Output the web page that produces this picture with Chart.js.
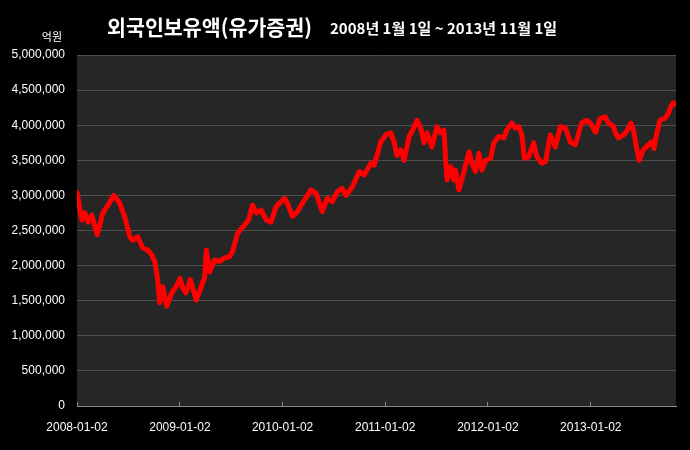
<!DOCTYPE html>
<html>
<head>
<meta charset="utf-8">
<script src="https://cdn.jsdelivr.net/npm/chart.js@4"></script>
<style>
  html, body { margin: 0; padding: 0; background: #000; }
  #wrap { width: 690px; height: 450px; position: relative; }
</style>
</head>
<body>
<div id="wrap"><canvas id="chart"></canvas></div>
<script>
// 외국인보유액(유가증권), 억원
const TITLE    = '외국인보유액(유가증권)';
const SUBTITLE = '2008년 1월 1일 ~ 2013년 11월 1일';
const UNIT     = '억원';

const dates = [
  '2008-01-02','2008-01-19','2008-01-30','2008-02-10','2008-02-23','2008-03-14','2008-04-03','2008-04-21',
  '2008-05-12','2008-06-02','2008-06-20','2008-07-08','2008-07-19','2008-08-05','2008-08-23','2008-09-10',
  '2008-09-24','2008-10-05','2008-10-15','2008-10-22','2008-11-02','2008-11-16','2008-12-04','2008-12-22',
  '2009-01-02','2009-01-12','2009-01-23','2009-02-08','2009-03-01','2009-03-19','2009-03-31','2009-04-06',
  '2009-04-18','2009-05-05','2009-05-23','2009-06-10','2009-06-28','2009-07-08','2009-07-26','2009-08-20',
  '2009-09-03','2009-09-17','2009-10-01','2009-10-18','2009-11-05','2009-11-22','2009-12-10','2010-01-09',
  '2010-01-19','2010-02-06','2010-02-24','2010-03-20','2010-04-13','2010-05-01','2010-05-23','2010-06-10',
  '2010-06-28','2010-07-15','2010-08-02','2010-08-15','2010-09-07','2010-10-02','2010-10-19','2010-11-12',
  '2010-11-24','2010-12-17','2011-01-06','2011-01-22','2011-02-03','2011-02-13','2011-02-26','2011-03-10',
  '2011-03-28','2011-04-07','2011-04-25','2011-05-08','2011-05-20','2011-05-31','2011-06-17','2011-07-05',
  '2011-07-18','2011-07-30','2011-08-05','2011-08-10','2011-08-23','2011-09-03','2011-09-09','2011-09-21',
  '2011-10-09','2011-10-27','2011-11-06','2011-11-19','2011-12-01','2011-12-12','2011-12-25','2012-01-12',
  '2012-01-23','2012-02-10','2012-02-28','2012-03-09','2012-03-27','2012-04-09','2012-04-21','2012-05-02',
  '2012-05-11','2012-05-26','2012-06-13','2012-06-24','2012-07-11','2012-07-25','2012-08-11','2012-08-29',
  '2012-09-16','2012-10-04','2012-10-21','2012-11-08','2012-11-30','2012-12-18','2012-12-31','2013-01-19',
  '2013-02-03','2013-02-22','2013-03-06','2013-03-24','2013-03-30','2013-04-10','2013-04-28','2013-05-09',
  '2013-05-25','2013-06-03','2013-06-13','2013-06-23','2013-07-08','2013-07-26','2013-08-05','2013-08-15',
  '2013-08-23','2013-09-05','2013-09-23','2013-10-05','2013-10-13','2013-10-22','2013-11-01'
];

const holdings = [
  3040000,2650000,2750000,2620000,2720000,2440000,2750000,2860000,
  3000000,2890000,2690000,2410000,2360000,2410000,2250000,2220000,
  2150000,2050000,1800000,1470000,1700000,1420000,1610000,1720000,
  1820000,1680000,1610000,1800000,1510000,1700000,1840000,2220000,
  1910000,2080000,2060000,2110000,2130000,2200000,2460000,2580000,
  2650000,2860000,2750000,2790000,2650000,2620000,2840000,2960000,
  2890000,2700000,2770000,2930000,3080000,3030000,2770000,2960000,
  2910000,3050000,3100000,3000000,3120000,3340000,3290000,3460000,
  3430000,3760000,3870000,3890000,3750000,3570000,3650000,3500000,
  3840000,3910000,4070000,3960000,3750000,3890000,3690000,3980000,
  3890000,3930000,3500000,3220000,3410000,3220000,3360000,3080000,
  3340000,3620000,3460000,3340000,3600000,3360000,3500000,3530000,
  3750000,3840000,3820000,3930000,4030000,3960000,3980000,3860000,
  3530000,3550000,3750000,3550000,3460000,3480000,3860000,3690000,
  3980000,3960000,3760000,3720000,4030000,4070000,4030000,3900000,
  4090000,4120000,4030000,3980000,3890000,3820000,3860000,3910000,
  4030000,3930000,3690000,3500000,3650000,3720000,3760000,3670000,
  3860000,4070000,4100000,4170000,4260000,4320000,4300000
];

const tickDates  = ['2008-01-02','2009-01-02','2010-01-02','2011-01-02','2012-01-02','2013-01-02'];
const yMin = 0, yMax = 5000000, yStep = 500000;

const START = Date.parse(dates[0]);
const dayOf = d => Math.round((Date.parse(d) - START) / 86400000);

const points = dates.map((d, i) => ({ x: dayOf(d), y: holdings[i] }));
const tickDays = tickDates.map(dayOf);

const FONT = "'Liberation Sans', 'Noto Sans', sans-serif";
const KFONT = "'Noto Sans CJK KR', 'Noto Sans', sans-serif";

// dark plot area + heading texts
const backdrop = {
  id: 'backdrop',
  beforeDraw(chart) {
    const { ctx, chartArea: a } = chart;
    ctx.save();
    ctx.fillStyle = '#000';
    ctx.fillRect(0, 0, chart.width, chart.height);
    ctx.fillStyle = '#262626';
    ctx.fillRect(a.left, a.top, a.right - a.left, a.bottom - a.top);
    ctx.restore();
  },
  afterDraw(chart) {
    const ctx = chart.ctx;
    ctx.save();
    ctx.fillStyle = '#fff';
    ctx.textBaseline = 'middle';
    ctx.textAlign = 'left';
    ctx.font = 'bold 21px ' + KFONT;
    ctx.fillText(TITLE, 107, 27, 205);
    ctx.font = 'bold 15px ' + KFONT;
    ctx.fillText(SUBTITLE, 330, 28, 229);
    ctx.textAlign = 'right';
    ctx.font = '11px ' + KFONT;
    ctx.fillText(UNIT, 62, 37);
    ctx.restore();
  }
};

new Chart(document.getElementById('chart'), {
  type: 'line',
  data: {
    datasets: [{
      label: TITLE,
      data: points,
      borderColor: '#ff0000',
      borderWidth: 5,
      pointRadius: 0,
      tension: 0,
      borderJoinStyle: 'round',
      borderCapStyle: 'round',
    }],
  },
  options: {
    responsive: true,
    maintainAspectRatio: false,
    animation: false,
    layout: { padding: { top: 55, right: 14, left: 0, bottom: 0 } },
    plugins: {
      legend:  { display: false },
      tooltip: { enabled: false },
    },
    scales: {
      x: {
        type: 'linear',
        min: 0,
        max: dayOf('2013-11-01'),
        afterBuildTicks: axis => { axis.ticks = tickDays.map(v => ({ value: v })); },
        afterFit: axis => { axis.height = 44; },
        ticks: {
          color: '#fff',
          font: { family: FONT, size: 12 },
          padding: 18,
          maxRotation: 0,
          autoSkip: false,
          callback: v => tickDates[tickDays.indexOf(v)] || '',
        },
        // negative length: tick marks point up into the plot, as in the original
        grid: { drawOnChartArea: false, color: '#8c8c8c', tickLength: -4 },
        border: { color: '#8c8c8c', width: 1 },
      },
      y: {
        min: yMin,
        max: yMax,
        afterFit: axis => { axis.width = 77; },
        ticks: {
          stepSize: yStep,
          color: '#fff',
          font: { family: FONT, size: 12 },
          padding: 12,
          callback: v => Number(v).toLocaleString('en-US'),
        },
        grid: { color: '#4e4e4e', lineWidth: 1, drawTicks: false },
        border: { display: false },
      },
    },
  },
  plugins: [backdrop],
});
</script>
</body>
</html>
